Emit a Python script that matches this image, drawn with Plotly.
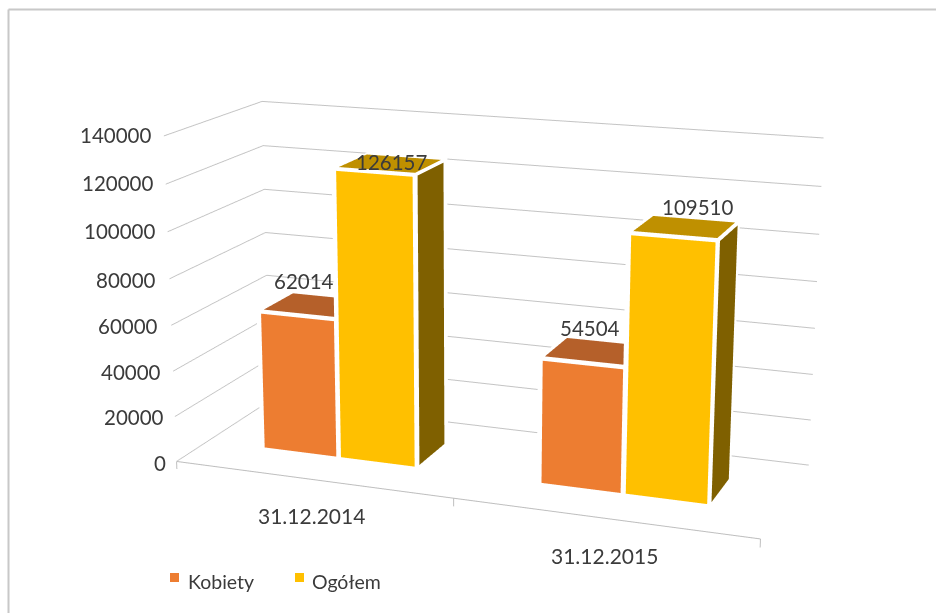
import plotly.graph_objects as go

categories = ["31.12.2014", "31.12.2015"]
kobiety = [62014, 54504]
ogolem = [126157, 109510]
z_ticks = [0, 20000, 40000, 60000, 80000, 100000, 120000, 140000]

XR = (0.0, 2.0); YR = (0.0, 1.0); ZR = (-3500.0, 140000.0)
W, H = 936, 613
# camera and bar layout in the 3D scene
EYE = (3.1487, -8.6609, 2.5039); CENTER = (-0.0819, -0.1000, 0.0230); UP = (0.0015, 0.0058, 1)
ASPECT = (2.7943, 1, 1.5919); FOVY = 0.29317
GAP, BAR_W, DEPTH0, DEPTH1 = 0.2168, 0.2855, 0.2966, 0.6769
DX, DY, DZ, EPSX, EPSY, EPSZ = 0.0086, 0.03, 1100, 0.003, 0.003, 270


def bar_mesh(xl, xr, y0, y1, v, fc, tc, sc, name):
    xs, ys, zs, i, j, k, col = [], [], [], [], [], [], []

    def quad(pts, c):
        n = len(xs)
        for p in pts:
            xs.append(p[0]); ys.append(p[1]); zs.append(p[2])
        i.extend([n, n]); j.extend([n + 1, n + 2]); k.extend([n + 2, n + 3]); col.extend([c, c])

    L, R, F, B, T = xl - DX, xr - EPSX, y0 + EPSY, y1 + DY, v - EPSZ
    quad([(L, F, 0), (R, F, 0), (R, F, T), (L, F, T)], "white")
    quad([(L, B, 0), (R, B, 0), (R, B, T), (L, B, T)], "white")
    quad([(L, F, 0), (L, B, 0), (L, B, T), (L, F, T)], "white")
    quad([(R, F, 0), (R, B, 0), (R, B, T), (R, F, T)], "white")
    quad([(L, F, T), (R, F, T), (R, B, T), (L, B, T)], "white")
    quad([(xl + DX, y0, DZ), (xr - DX, y0, DZ), (xr - DX, y0, v - DZ), (xl + DX, y0, v - DZ)], fc)
    quad([(xl + DX, y0 + DY, v), (xr - DX, y0 + DY, v), (xr - DX, y1 - DY, v), (xl + DX, y1 - DY, v)], tc)
    quad([(xr, y0 + DY, DZ), (xr, y1 - DY, DZ), (xr, y1 - DY, v - DZ), (xr, y0 + DY, v - DZ)], sc)
    return go.Mesh3d(x=xs, y=ys, z=zs, i=i, j=j, k=k, facecolor=col, flatshading=True, name=name, showlegend=False,
                     lighting=dict(ambient=1, diffuse=0, specular=0, fresnel=0, roughness=1), hoverinfo="skip")


fig = go.Figure()
series = [("Kobiety", kobiety, 0, "#ED7D31", "#B5602A", "#8A4A1E"), ("Ogółem", ogolem, 1, "#FFC000", "#BF9000", "#7F6000")]
for name, vals, s, fc, tc, sc in series:
    for c, v in enumerate(vals):
        xl = c + GAP + s * BAR_W
        fig.add_trace(bar_mesh(xl, xl + BAR_W, DEPTH0, DEPTH1, v, fc, tc, sc, name))
fig.add_trace(go.Scatter3d(x=[0, 0, None, 0, 2, None, 1, 1, None, 2, 2], y=[0, 0, None, 0, 0, None, 0, 0, None, 0, 0],
                           z=[ZR[0], 0, None, 0, 0, None, 0, ZR[0], None, 0, ZR[0]],
                           mode="lines", line=dict(color="#BFBFBF", width=2), showlegend=False, hoverinfo="skip"))

FONT = "Lato"; TC = "#3B3B3B"
ann = []
tick_shift = {0: (-9, -2), 20000: (-9, 0), 40000: (-10, -1), 60000: (-11, -1), 80000: (-11, -1), 100000: (-11, 1), 120000: (-11, 1), 140000: (-11, 1)}
for t in z_ticks:
    ann.append(dict(x=0, y=0, z=t, text=str(t), showarrow=False, xanchor="right", yanchor="middle", xshift=tick_shift[t][0], yshift=tick_shift[t][1],
                    font=dict(family=FONT, size=20.5, color=TC)))
cat_shift = [(0, -36), (2, -37)]
for c, t in enumerate(categories):
    ann.append(dict(x=c + 0.5, y=0, z=0, text=t, showarrow=False, xanchor="center", yanchor="middle",
                    xshift=cat_shift[c][0], yshift=cat_shift[c][1], font=dict(family=FONT, size=21, color=TC)))
label_shift = {(0, 0): (-10, 24), (0, 1): (-5, 23), (1, 0): (1, 1), (1, 1): (13, 20)}
for name, vals, s, *_ in series:
    for c, v in enumerate(vals):
        ann.append(dict(x=c + GAP + (s + 0.5) * BAR_W, y=(DEPTH0 + DEPTH1) / 2, z=v, text=str(v), showarrow=False, yanchor="middle",
                        xshift=label_shift[(s, c)][0], yshift=label_shift[(s, c)][1], font=dict(family=FONT, size=20.5, color=TC)))
noax = dict(showgrid=False, showticklabels=False, showline=False, zeroline=False, showbackground=False, title="", showspikes=False, ticks="")
fig.update_layout(
    width=W, height=H, margin=dict(l=0, r=0, t=0, b=0), paper_bgcolor="white", template="none",
    scene=dict(domain=dict(x=[0, 1], y=[0, 1]), bgcolor="rgba(0,0,0,0)",
               xaxis=dict(range=list(XR), **noax), yaxis=dict(range=list(YR), **noax),
               zaxis=dict(range=list(ZR), tickvals=z_ticks, showgrid=True, gridcolor="#C4C4C4", gridwidth=2, showticklabels=False,
                          showline=False, zeroline=False, showbackground=False, title="", showspikes=False, ticks=""),
               aspectmode="manual", aspectratio=dict(x=ASPECT[0], y=ASPECT[1], z=ASPECT[2]),
               camera=dict(eye=dict(x=EYE[0], y=EYE[1], z=EYE[2]), center=dict(x=CENTER[0], y=CENTER[1], z=CENTER[2]),
                           up=dict(x=UP[0], y=UP[1], z=UP[2]), projection=dict(type="perspective")),
               annotations=ann),
    shapes=[dict(type="line", xref="paper", yref="paper", x0=8.5 / W, x1=1, y0=1 - 9.5 / H, y1=1 - 9.5 / H, line=dict(color="#C8C8C8", width=2)),
            dict(type="line", xref="paper", yref="paper", x0=8.5 / W, x1=8.5 / W, y0=0, y1=1 - 9.5 / H, line=dict(color="#C8C8C8", width=2)),
            dict(type="rect", xref="paper", yref="paper", x0=170 / W, x1=179 / W, y0=1 - 582 / H, y1=1 - 573 / H, fillcolor="#ED7D31", line=dict(width=0)),
            dict(type="rect", xref="paper", yref="paper", x0=295 / W, x1=304 / W, y0=1 - 582 / H, y1=1 - 573 / H, fillcolor="#FFC000", line=dict(width=0))],
    annotations=[dict(xref="paper", yref="paper", x=186 / W, y=1 - 581 / H, xanchor="left", yanchor="middle", showarrow=False, text="Kobiety",
                      font=dict(family=FONT, size=19.5, color=TC)),
                 dict(xref="paper", yref="paper", x=310 / W, y=1 - 581 / H, xanchor="left", yanchor="middle", showarrow=False, text="Ogółem",
                      font=dict(family=FONT, size=19.5, color=TC))])
post = "document.body.style.margin='0';var gd=document.getElementById('{plot_id}');var g=gd._fullLayout.scene._scene.glplot;g.fovy=%f;g.redraw();" % FOVY
fig.write_html("out.html", post_script=post, config=dict(displayModeBar=False))
